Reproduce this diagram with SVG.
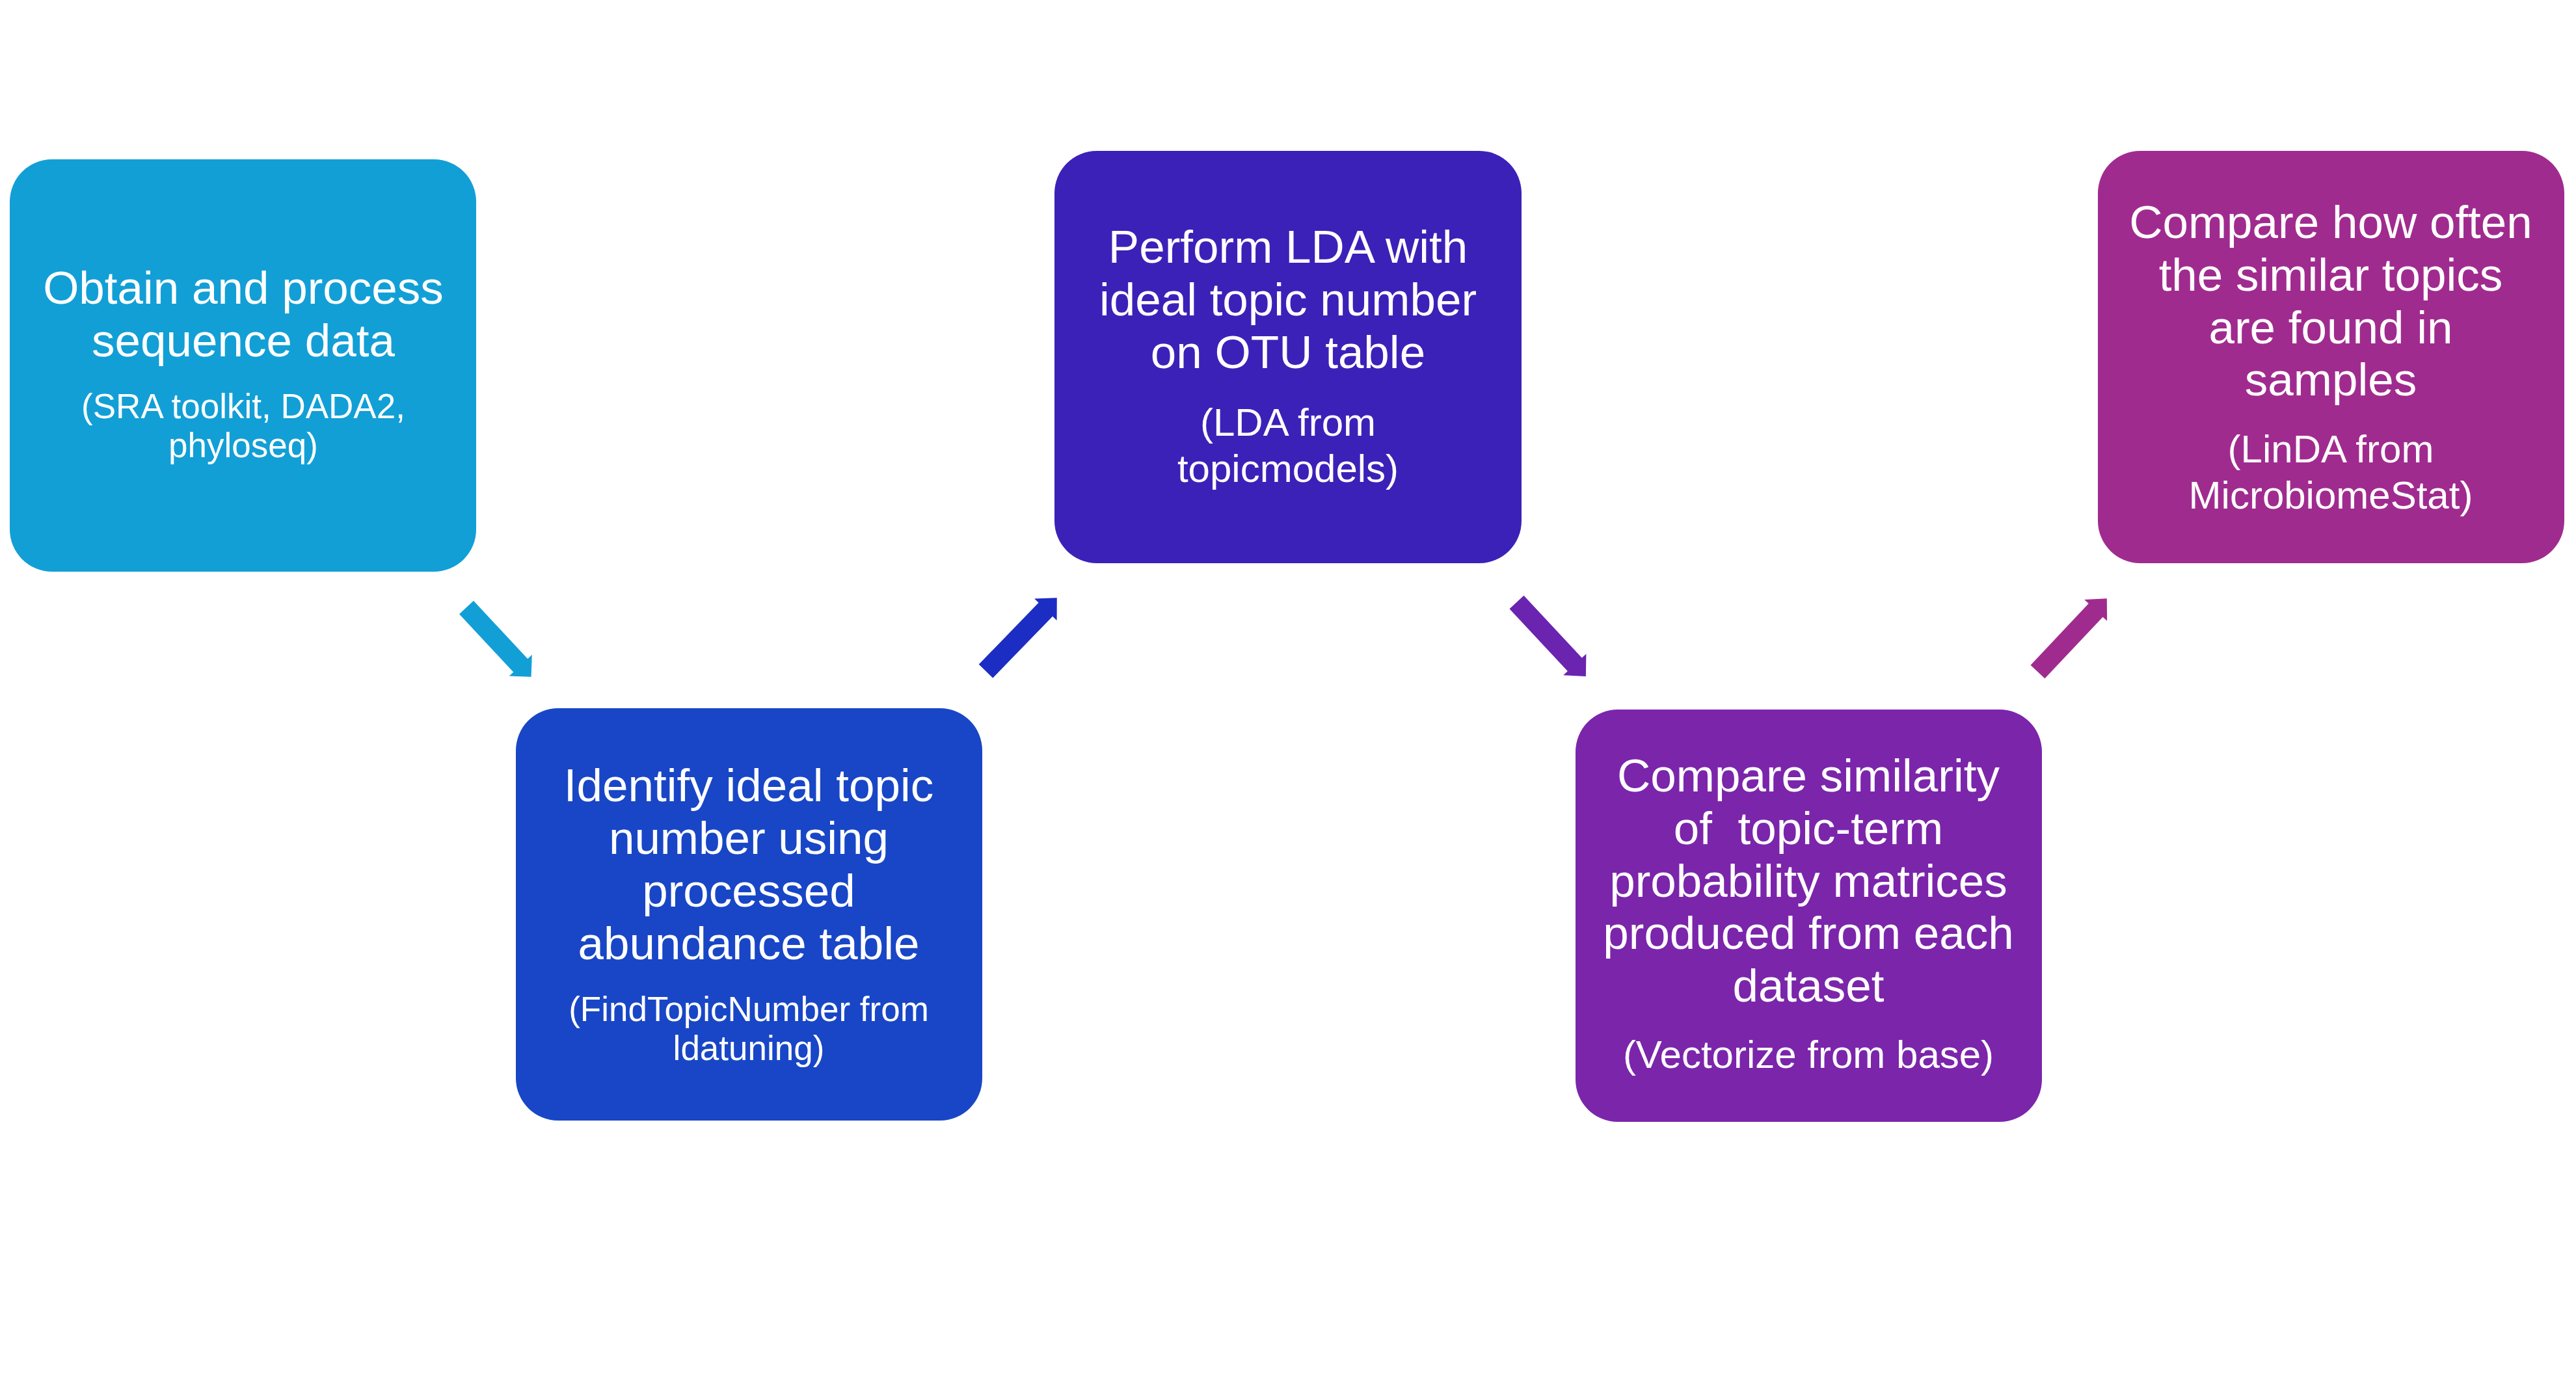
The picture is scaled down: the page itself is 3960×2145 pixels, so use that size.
<svg xmlns="http://www.w3.org/2000/svg" width="3960" height="2145" viewBox="0 0 3960 2145">
  <style>
    .box { stroke: none; }
    .main { font-family: "Liberation Sans", Arial, sans-serif; font-size: 71px; fill: #ffffff; text-anchor: middle; }
    .sub { font-family: "Liberation Sans", Arial, sans-serif; font-size: 53px; fill: #ffffff; text-anchor: middle; }
    .sub2 { font-family: "Liberation Sans", Arial, sans-serif; font-size: 60px; fill: #ffffff; text-anchor: middle; }
    .c1 { fill: #129FD6; }
    .c2 { fill: #1C2DC4; }
    .c3 { fill: #6A24B0; }
    .c4 { fill: #A02B8F; }
  </style>
  <rect width="3960" height="2145" fill="#ffffff"/>

  <g id="connectors">
    <path class="c1" transform="translate(717,934) rotate(47)" d="M0,-15 H122 V-24 L146,0 L122,24 V15 H0 Z"/>
    <path class="c2" transform="translate(1515.5,1032) rotate(-45.9)" d="M0,-15 H132 V-24 L157,0 L132,24 V15 H0 Z"/>
    <path class="c3" transform="translate(2331.5,926) rotate(47)" d="M0,-15 H131 V-24 L156,0 L131,24 V15 H0 Z"/>
    <path class="c4" transform="translate(3132.5,1033) rotate(-46.7)" d="M0,-15 H130 V-24 L155,0 L130,24 V15 H0 Z"/>
  </g>

  <g id="node1">
    <rect class="box" x="15" y="245" width="717" height="634" rx="65" fill="#129FD6"/>
    <text class="main" x="374" y="467">Obtain and process</text>
    <text class="main" x="374" y="548">sequence data</text>
    <text class="sub" x="374" y="643">(SRA toolkit, DADA2,</text>
    <text class="sub" x="374" y="703">phyloseq)</text>
  </g>

  <g id="node2">
    <rect class="box" x="793" y="1089" width="717" height="634" rx="65" fill="#1846C6"/>
    <text class="main" x="1151" y="1232">Identify ideal topic</text>
    <text class="main" x="1151" y="1313">number using</text>
    <text class="main" x="1151" y="1394">processed</text>
    <text class="main" x="1151" y="1475">abundance table</text>
    <text class="sub" x="1151" y="1570">(FindTopicNumber from</text>
    <text class="sub" x="1151" y="1630">ldatuning)</text>
  </g>

  <g id="node3">
    <rect class="box" x="1621" y="232" width="718" height="634" rx="65" fill="#3C21B8"/>
    <text class="main" x="1980" y="404">Perform LDA with</text>
    <text class="main" x="1980" y="485">ideal topic number</text>
    <text class="main" x="1980" y="566">on OTU table</text>
    <text class="sub2" x="1980" y="670">(LDA from</text>
    <text class="sub2" x="1980" y="741">topicmodels)</text>
  </g>

  <g id="node4">
    <rect class="box" x="2422" y="1091" width="717" height="634" rx="65" fill="#7B25AB"/>
    <text class="main" x="2780" y="1217">Compare similarity</text>
    <text class="main" x="2780" y="1298" style="white-space:pre">of  topic-term</text>
    <text class="main" x="2780" y="1379">probability matrices</text>
    <text class="main" x="2780" y="1459">produced from each</text>
    <text class="main" x="2780" y="1540">dataset</text>
    <text class="sub2" x="2780" y="1642">(Vectorize from base)</text>
  </g>

  <g id="node5">
    <rect class="box" x="3225" y="232" width="717" height="634" rx="65" fill="#A02B8F"/>
    <text class="main" x="3583" y="366">Compare how often</text>
    <text class="main" x="3583" y="447">the similar topics</text>
    <text class="main" x="3583" y="528">are found in</text>
    <text class="main" x="3583" y="608">samples</text>
    <text class="sub2" x="3583" y="711">(LinDA from</text>
    <text class="sub2" x="3583" y="782">MicrobiomeStat)</text>
  </g>
</svg>
